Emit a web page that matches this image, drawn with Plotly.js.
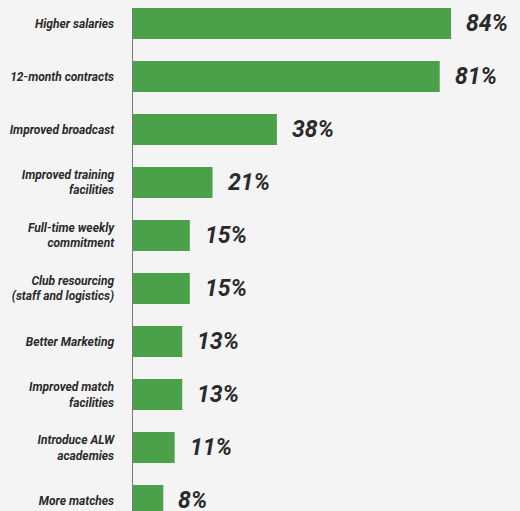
<!DOCTYPE html>
<html>
<head>
<meta charset="utf-8">
<script src="https://cdn.plot.ly/plotly-3.0.1.min.js"></script>
<style>html,body{margin:0;padding:0;background:#f4f4f4;}#chart{width:520px;height:511px;}</style>
</head>
<body>
<div id="chart"></div>
<script>
const categories = [
  "Higher salaries",
  "12-month contracts",
  "Improved broadcast",
  "Improved training<br>facilities",
  "Full-time weekly<br>commitment",
  "Club resourcing<br>(staff and logistics)",
  "Better Marketing",
  "Improved match<br>facilities",
  "Introduce ALW<br>academies",
  "More matches"
];
const values = [84, 81, 38, 21, 15, 15, 13, 13, 11, 8];
const valueLabels = values.map(v => v + "%");

const font = "Roboto, 'Liberation Sans', sans-serif";

const trace = {
  type: "bar",
  orientation: "h",
  x: values,
  y: categories,
  marker: {color: "#4aa14a"},
  hoverinfo: "none"
};

const annotations = values.map((v, i) => ({
  x: v, y: categories[i], xref: "x", yref: "y",
  text: valueLabels[i], showarrow: false,
  xanchor: "left", yanchor: "middle", xshift: 13,
  font: {family: font, size: 23, color: "#2a2a2a", weight: 700, style: "italic"}
}));

const layout = {
  width: 520, height: 511,
  paper_bgcolor: "#f4f4f4", plot_bgcolor: "#f4f4f4",
  margin: {l: 133, r: 0, t: 8, b: 0, pad: 0},
  bargap: 0.415,
  showlegend: false,
  xaxis: {range: [0, 102.2], showgrid: false, zeroline: false, showticklabels: false, showline: false, fixedrange: true},
  yaxis: {
    type: "category",
    range: [9.198, -0.2925],
    showgrid: false, zeroline: false,
    showline: true, linecolor: "#7a7a7a", linewidth: 1.5,
    ticks: "", ticklabelstandoff: 15,
    tickfont: {family: font, size: 12, color: "#2a2a2a", weight: 700, style: "italic"},
    fixedrange: true
  },
  annotations: annotations
};

Plotly.newPlot("chart", [trace], layout, {displayModeBar: false, staticPlot: true});
</script>
</body>
</html>
